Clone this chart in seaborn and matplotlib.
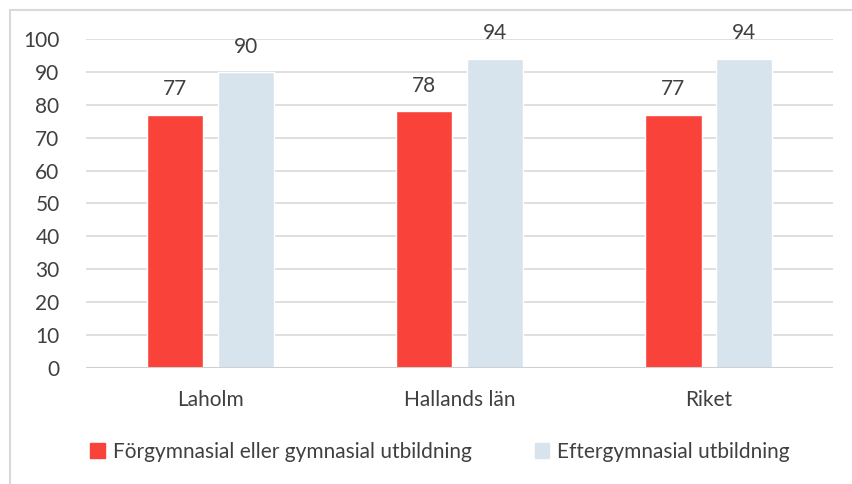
import pandas as pd
import matplotlib.pyplot as plt
import matplotlib.patches as mpatches
import seaborn as sns

# values
regions = ['Laholm', 'Hallands län', 'Riket']
series = ['Förgymnasial eller gymnasial utbildning', 'Eftergymnasial utbildning']
forgymn = [77, 78, 77]
eftergymn = [90, 94, 94]
colors = ['#F9423A', '#D7E4EE']

df = pd.DataFrame({
    'region': regions * 2,
    'serie': [series[0]] * 3 + [series[1]] * 3,
    'value': forgymn + eftergymn,
})

sns.set_style('white')
plt.rcParams['font.family'] = ['Lato', 'DejaVu Sans']
text_col = '#404040'

fig = plt.figure(figsize=(8.53, 4.84), dpi=100)
ax = fig.add_axes([0.1008, 0.2397, 0.8758, 0.6797])

sns.barplot(data=df, x='region', y='value', hue='serie', palette=colors,
            width=0.564, gap=0.2, saturation=1, ax=ax, legend=False)

ax.set_ylim(0, 100)
ax.set_yticks(range(0, 101, 10))
ax.set_xlim(-0.5, 2.5)
ax.grid(axis='y', color='#D9D9D9', linewidth=1.2)
ax.set_axisbelow(True)
for s in ax.spines.values():
    s.set_visible(False)
ax.axhline(0, color='#D0D0D0', linewidth=1.5, zorder=1)
ax.tick_params(axis='y', length=0, pad=19, labelsize=15, labelcolor=text_col)
ax.tick_params(axis='x', length=0, pad=16, labelsize=15, labelcolor=text_col)
ax.set_xlabel('')
ax.set_ylabel('')

for cont in ax.containers:
    ax.bar_label(cont, padding=11, fontsize=15, color=text_col)

handles = [mpatches.Patch(color=c, label=l) for c, l in zip(colors, series)]
fig.legend(handles=handles, loc='center', bbox_to_anchor=(0.516, 0.066), ncol=2,
           frameon=False, fontsize=15, labelcolor=text_col, handlelength=0.7,
           handleheight=0.7, handletextpad=0.4, columnspacing=3.0)

# outer border of the chart area
fig.patches.append(mpatches.Rectangle((10 / 853, -0.1), 1.1, 1 - 10 / 484 + 0.1,
                                      transform=fig.transFigure, fill=False,
                                      edgecolor='#D9D9D9', linewidth=1.5))

fig.savefig('out.png', dpi=100)
